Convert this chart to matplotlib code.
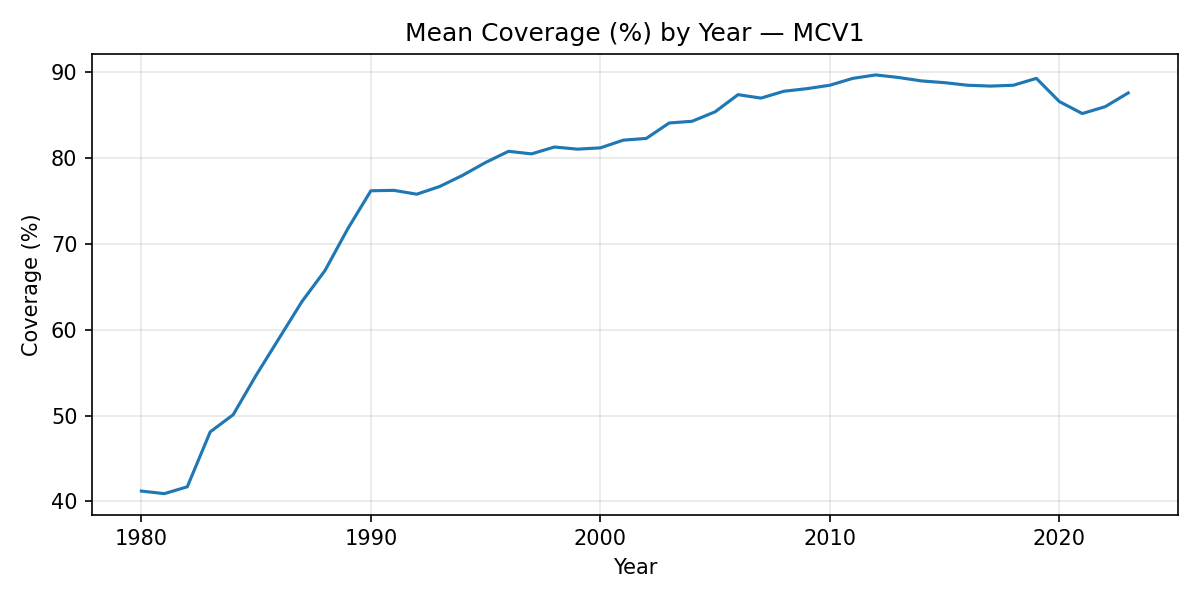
import matplotlib
matplotlib.use("Agg")
import matplotlib.pyplot as plt

years = list(range(1980, 2024))
coverage = [41.2, 40.9, 41.7, 48.1, 50.1, 54.7, 59.0, 63.3, 66.9, 71.8,
            76.2, 76.25, 75.8, 76.7, 78.0, 79.5, 80.8, 80.5, 81.3, 81.05,
            81.2, 82.1, 82.3, 84.1, 84.3, 85.4, 87.4, 87.0, 87.8, 88.1,
            88.5, 89.3, 89.7, 89.4, 89.0, 88.8, 88.5, 88.4, 88.5, 89.3,
            86.6, 85.2, 86.0, 87.6]

fig, ax = plt.subplots(figsize=(8, 4), dpi=150)
ax.plot(years, coverage, color="#1f77b4")
ax.set_title("Mean Coverage (%) by Year — MCV1")
ax.set_xlabel("Year")
ax.set_ylabel("Coverage (%)")
ax.grid(True, alpha=0.3)
fig.tight_layout()
fig.savefig("out.png")
